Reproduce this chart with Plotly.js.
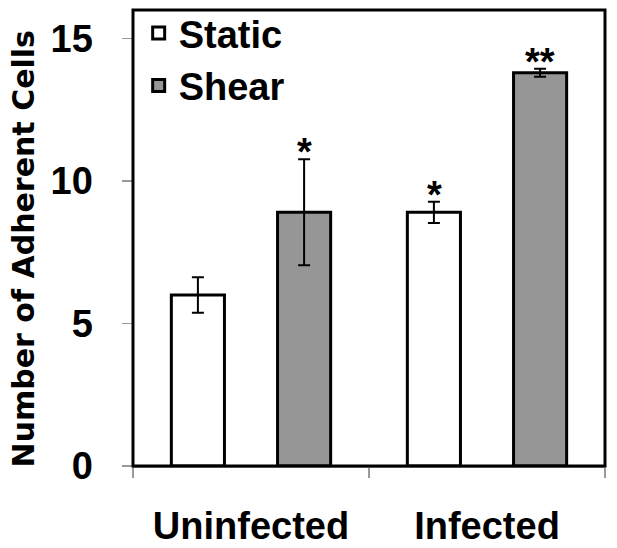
<!DOCTYPE html>
<html><head><meta charset="utf-8">
<script src="https://cdn.plot.ly/plotly-3.0.1.min.js"></script>
<style>body{margin:0;background:#fff}#c{width:617px;height:548px}</style>
</head><body><div id="c"></div>
<script>
const categories = ["Uninfected", "Infected"];
const staticVals = [6.0, 8.9];
const staticErr = [0.62, 0.37];
const shearVals = [8.9, 13.8];
const shearErr = [1.86, 0.14];
const staticMarks = ["", "*"];
const shearMarks = ["*", "**"];

const F = "Arial, 'Liberation Sans', sans-serif";
const traces = [
  {type:"bar", name:"Static", x:categories, y:staticVals,
   error_y:{type:"data", array:staticErr, visible:true, color:"#000", thickness:2, width:6},
   marker:{color:"#fff", line:{color:"#000", width:3}}},
  {type:"bar", name:"Shear", x:categories, y:shearVals,
   error_y:{type:"data", array:shearErr, visible:true, color:"#000", thickness:2, width:6},
   marker:{color:"#969696", line:{color:"#000", width:3}}}
];
const ann = [];
categories.forEach((c,i)=>{
  if (staticMarks[i]) ann.push({x:c, y:staticVals[i]+staticErr[i], xref:"x", yref:"y", xshift:-53, yshift:-16,
    text:"<b>"+staticMarks[i]+"</b>", showarrow:false, yanchor:"bottom", font:{family:F, size:38, color:"#000"}});
  if (shearMarks[i]) ann.push({x:c, y:shearVals[i]+shearErr[i], xref:"x", yref:"y", xshift:53, yshift:-16,
    text:"<b>"+shearMarks[i]+"</b>", showarrow:false, yanchor:"bottom", font:{family:F, size:38, color:"#000"}});
});
const layout = {
  width:617, height:548,
  margin:{l:133, r:12, t:10, b:82, autoexpand:false},
  paper_bgcolor:"#fff", plot_bgcolor:"#fff",
  barmode:"group", bargap:0.10, bargroupgap:0.5,
  showlegend:true,
  legend:{x:0.012, y:1.018, xanchor:"left", yanchor:"top", bgcolor:"rgba(0,0,0,0)",
    font:{family:F, size:38, color:"#000", weight:"bold"}, itemwidth:30, tracegroupgap:0},
  xaxis:{type:"category", showgrid:false, showline:true, linecolor:"#999", linewidth:1.5,
    ticks:"outside", tickson:"boundaries", ticklen:10, tickcolor:"#999", tickwidth:1.5,
    ticklabelstandoff:26, automargin:false,
    tickfont:{family:F, size:38, color:"#000", weight:"bold"}},
  yaxis:{range:[0,16], tickvals:[0,5,10,15], showgrid:false, zeroline:false, showline:true,
    linecolor:"#999", linewidth:1.5, ticks:"outside", ticklen:10, tickcolor:"#999", tickwidth:1.5,
    ticklabelstandoff:21, automargin:false,
    tickfont:{family:F, size:38, color:"#000", weight:"bold"}},
  annotations:ann.concat([{xref:"paper", yref:"paper", x:-0.232, y:0.476, xanchor:"center", yanchor:"middle",
    textangle:-90, showarrow:false, text:"<b>Number of Adherent Cells</b>",
    font:{family:"'DejaVu Sans', sans-serif", size:30, color:"#000"}}]),
  shapes:[{type:"rect", xref:"paper", yref:"paper", x0:0, x1:1, y0:0, y1:1, line:{color:"#000", width:3}}]
};
Plotly.newPlot("c", traces, layout, {staticPlot:true});
</script></body></html>
